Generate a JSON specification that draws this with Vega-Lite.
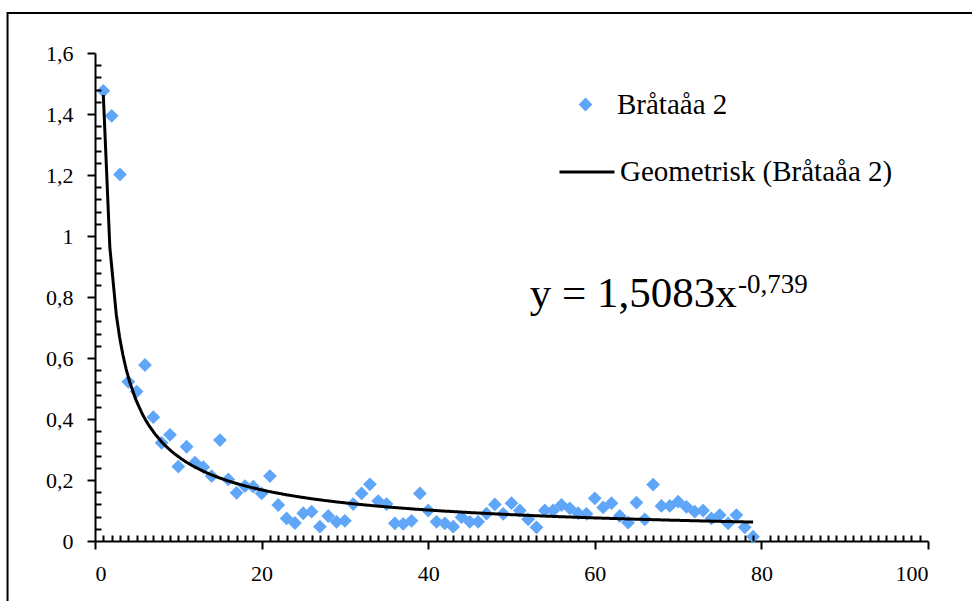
{
  "$schema": "https://vega.github.io/schema/vega-lite/v6.json",
  "width": 833,
  "height": 488,
  "autosize": {"type": "none"},
  "padding": {"left": 95, "top": 53, "right": 44, "bottom": 60},
  "background": "white",
  "config": {
    "view": {"stroke": null},
    "font": "'Liberation Serif', 'Times New Roman', serif",
    "axis": {
      "grid": false,
      "domainColor": "black",
      "domainWidth": 2,
      "tickColor": "black",
      "tickWidth": 2,
      "labelColor": "black",
      "labelFont": "'Liberation Serif', 'Times New Roman', serif",
      "labelFontSize": 22,
      "title": null
    },
    "legend": {"padding": 0, "labelFont": "'Liberation Serif', 'Times New Roman', serif", "labelFontSize": 29, "labelColor": "black", "labelLimit": 500}
  },
  "data": {
    "values": [
      {"x": 1, "y": 1.476}, {"x": 2, "y": 1.394}, {"x": 3, "y": 1.202}, {"x": 4, "y": 0.522},
      {"x": 5, "y": 0.49}, {"x": 6, "y": 0.577}, {"x": 7, "y": 0.406}, {"x": 8, "y": 0.322},
      {"x": 9, "y": 0.348}, {"x": 10, "y": 0.244}, {"x": 11, "y": 0.309}, {"x": 12, "y": 0.257},
      {"x": 13, "y": 0.242}, {"x": 14, "y": 0.213}, {"x": 15, "y": 0.331}, {"x": 16, "y": 0.202},
      {"x": 17, "y": 0.158}, {"x": 18, "y": 0.18}, {"x": 19, "y": 0.178}, {"x": 20, "y": 0.156},
      {"x": 21, "y": 0.213}, {"x": 22, "y": 0.118}, {"x": 23, "y": 0.074}, {"x": 24, "y": 0.059},
      {"x": 25, "y": 0.091}, {"x": 26, "y": 0.096}, {"x": 27, "y": 0.047}, {"x": 28, "y": 0.082},
      {"x": 29, "y": 0.063}, {"x": 30, "y": 0.066}, {"x": 31, "y": 0.121}, {"x": 32, "y": 0.156},
      {"x": 33, "y": 0.186}, {"x": 34, "y": 0.131}, {"x": 35, "y": 0.121}, {"x": 36, "y": 0.058},
      {"x": 37, "y": 0.056}, {"x": 38, "y": 0.066}, {"x": 39, "y": 0.156}, {"x": 40, "y": 0.1},
      {"x": 41, "y": 0.063}, {"x": 42, "y": 0.058}, {"x": 43, "y": 0.047}, {"x": 44, "y": 0.078},
      {"x": 45, "y": 0.063}, {"x": 46, "y": 0.063}, {"x": 47, "y": 0.09}, {"x": 48, "y": 0.12},
      {"x": 49, "y": 0.089}, {"x": 50, "y": 0.124}, {"x": 51, "y": 0.1}, {"x": 52, "y": 0.071},
      {"x": 53, "y": 0.045}, {"x": 54, "y": 0.1}, {"x": 55, "y": 0.1}, {"x": 56, "y": 0.118},
      {"x": 57, "y": 0.107}, {"x": 58, "y": 0.091}, {"x": 59, "y": 0.089}, {"x": 60, "y": 0.14},
      {"x": 61, "y": 0.11}, {"x": 62, "y": 0.124}, {"x": 63, "y": 0.082}, {"x": 64, "y": 0.06},
      {"x": 65, "y": 0.126}, {"x": 66, "y": 0.071}, {"x": 67, "y": 0.185}, {"x": 68, "y": 0.115},
      {"x": 69, "y": 0.115}, {"x": 70, "y": 0.129}, {"x": 71, "y": 0.112}, {"x": 72, "y": 0.096},
      {"x": 73, "y": 0.1}, {"x": 74, "y": 0.074}, {"x": 75, "y": 0.085}, {"x": 76, "y": 0.058},
      {"x": 77, "y": 0.085}, {"x": 78, "y": 0.045}, {"x": 79, "y": 0.014}
    ]
  },
  "layer": [
    {
      "data": {"values": [{}]},
      "mark": {"type": "rect", "filled": false, "stroke": "black", "strokeWidth": 2},
      "encoding": {
        "x": {"datum": -10.5, "type": "quantitative", "scale": {"domain": [0, 100], "nice": false, "zero": false}, "axis": null},
        "x2": {"datum": 120},
        "y": {"datum": 1.731, "type": "quantitative", "scale": {"domain": [0, 1.6], "nice": false}, "axis": null},
        "y2": {"datum": -0.4}
      }
    },
    {
      "mark": {"type": "point", "shape": "diamond", "filled": true, "size": 190, "opacity": 1},
      "encoding": {
        "x": {
          "field": "x", "type": "quantitative",
          "axis": {"orient": "bottom", "values": [0, 20, 40, 60, 80, 100], "tickSize": 8, "labelPadding": 14}
        },
        "y": {
          "field": "y", "type": "quantitative",
          "axis": {"orient": "left", "values": [0, 0.2, 0.4, 0.6, 0.8, 1, 1.2, 1.4, 1.6], "tickSize": 8, "labelPadding": 14,
                   "labelExpr": "replace(format(datum.value, '~g'), '.', ',')"}
        },
        "color": {
          "datum": "Bråtaåa 2",
          "scale": {"range": ["#5FA6F8"]},
          "legend": {"orient": "none", "legendX": 476, "legendY": 37, "title": null, "symbolType": "diamond", "symbolSize": 190, "labelOffset": 17}
        }
      }
    },
    {
      "transform": [{"regression": "y", "on": "x", "method": "pow", "extent": [1, 79]}],
      "mark": {"type": "line", "color": "black", "strokeWidth": 3},
      "encoding": {
        "x": {
          "field": "x", "type": "quantitative",
          "axis": {"orient": "top", "offset": -488, "labels": false, "domain": false, "tickSize": 6, "zindex": 1,
                   "values": [1,2,3,4,5,6,7,8,9,10,11,12,13,14,15,16,17,18,19,21,22,23,24,25,26,27,28,29,30,31,32,33,34,35,36,37,38,39,41,42,43,44,45,46,47,48,49,50,51,52,53,54,55,56,57,58,59,61,62,63,64,65,66,67,68,69,70,71,72,73,74,75,76,77,78,79,81,82,83,84,85,86,87,88,89,90,91,92,93,94,95,96,97,98,99]}
        },
        "y": {
          "field": "y", "type": "quantitative",
          "axis": {"orient": "right", "offset": -833, "labels": false, "domain": false, "tickSize": 6, "zindex": 1,
                   "values": [0.04,0.08,0.12,0.16,0.24,0.28,0.32,0.36,0.44,0.48,0.52,0.56,0.64,0.68,0.72,0.76,0.84,0.88,0.92,0.96,1.04,1.08,1.12,1.16,1.24,1.28,1.32,1.36,1.44,1.48,1.52,1.56]}
        },
        "strokeDash": {
          "datum": "Geometrisk (Bråtaåa 2)",
          "scale": {"range": [[1, 0]]},
          "legend": {"orient": "none", "legendX": 463, "legendY": 90, "title": null, "symbolType": "stroke", "symbolSize": 3025,
                     "symbolStrokeWidth": 3, "symbolStrokeColor": "black", "labelOffset": 4}
        }
      }
    },
    {
      "data": {"values": [{}]},
      "mark": {"type": "text", "text": "y = 1,5083x", "align": "left", "baseline": "alphabetic", "fontSize": 43, "font": "'Liberation Serif', 'Times New Roman', serif", "color": "black"},
      "encoding": {
        "x": {"datum": 52.2, "type": "quantitative", "axis": null},
        "y": {"datum": 0.767, "type": "quantitative", "axis": null}
      }
    },
    {
      "data": {"values": [{}]},
      "mark": {"type": "text", "text": "-0,739", "align": "left", "baseline": "alphabetic", "fontSize": 27, "font": "'Liberation Serif', 'Times New Roman', serif", "color": "black"},
      "encoding": {
        "x": {"datum": 77.2, "type": "quantitative", "axis": null},
        "y": {"datum": 0.813, "type": "quantitative", "axis": null}
      }
    }
  ],
  "resolve": {"axis": {"x": "independent", "y": "independent"}}
}
